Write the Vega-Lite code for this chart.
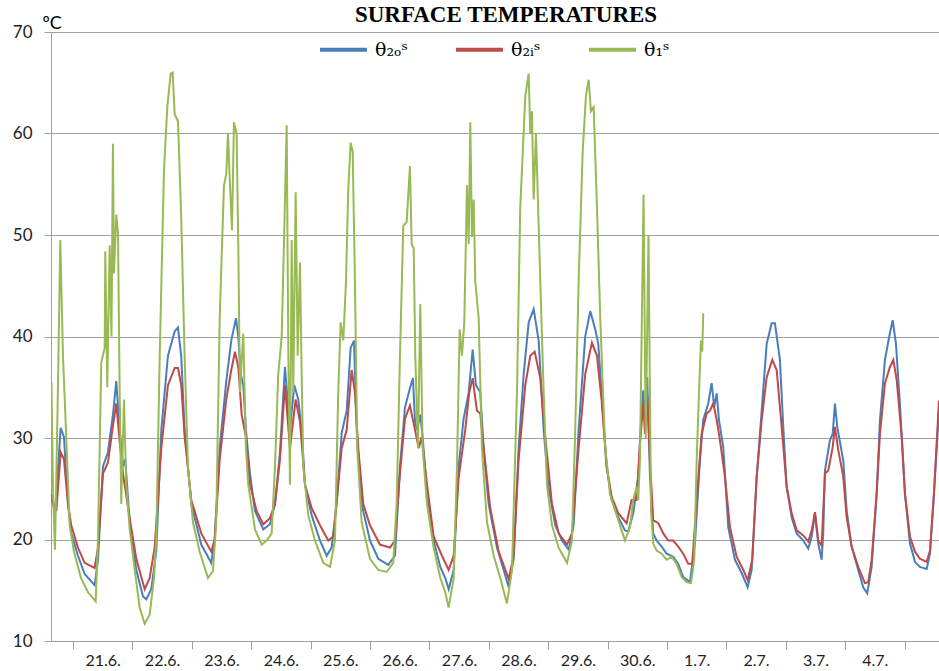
{
"$schema": "https://vega.github.io/schema/vega-lite/v6.json",
"width": 888, "height": 609,
"autosize": {"type": "none"},
"padding": {"left": 51, "top": 32, "right": 0, "bottom": 30},
"background": "white",
"config": {"view": {"stroke": null}},
"title": {"text": "SURFACE TEMPERATURES", "font": "Liberation Serif", "fontSize": 23, "fontWeight": "bold", "color": "#000", "anchor": "middle", "frame": "group", "dx": 11, "dy": 21, "offset": 8},
"datasets": {
"b": [
{"t":-0.362,"v":24.5},{"t":-0.303,"v":22.5},{"t":-0.207,"v":31},{"t":-0.152,"v":30.1},{"t":-0.084,"v":23.5},{"t":-0.029,"v":20.6},{"t":0.084,"v":18.4},{"t":0.197,"v":16.6},{"t":0.365,"v":15.5},{"t":0.421,"v":18},{"t":0.505,"v":27.2},{"t":0.589,"v":28.6},{"t":0.673,"v":32.3},{"t":0.729,"v":35.6},{"t":0.786,"v":30.8},{"t":0.842,"v":27.2},{"t":0.880,"v":27.9},{"t":0.955,"v":21.7},{"t":1.066,"v":17},{"t":1.178,"v":14.4},{"t":1.234,"v":14.1},{"t":1.318,"v":15.1},{"t":1.402,"v":18.8},{"t":1.487,"v":30.8},{"t":1.599,"v":38.1},{"t":1.712,"v":40.5},{"t":1.768,"v":40.9},{"t":1.823,"v":38},{"t":1.880,"v":30.8},{"t":1.992,"v":23.5},{"t":2.160,"v":19.5},{"t":2.328,"v":17.7},{"t":2.385,"v":20},{"t":2.470,"v":29},{"t":2.581,"v":35.6},{"t":2.665,"v":39.6},{"t":2.744,"v":41.8},{"t":2.783,"v":40},{"t":2.823,"v":36.3},{"t":2.867,"v":35.2},{"t":2.912,"v":30.8},{"t":2.980,"v":26.5},{"t":3.064,"v":22.8},{"t":3.204,"v":21},{"t":3.316,"v":21.5},{"t":3.401,"v":23.5},{"t":3.485,"v":28.6},{"t":3.569,"v":37},{"t":3.653,"v":30.8},{"t":3.726,"v":35.2},{"t":3.793,"v":33.8},{"t":3.850,"v":30.8},{"t":3.906,"v":25.4},{"t":4.018,"v":22.4},{"t":4.158,"v":19.9},{"t":4.271,"v":18.4},{"t":4.355,"v":19.2},{"t":4.439,"v":23.5},{"t":4.524,"v":30.5},{"t":4.608,"v":32.7},{"t":4.675,"v":38.9},{"t":4.731,"v":39.6},{"t":4.776,"v":30.8},{"t":4.860,"v":23.5},{"t":5.000,"v":19.9},{"t":5.140,"v":18.1},{"t":5.308,"v":17.5},{"t":5.421,"v":18.4},{"t":5.505,"v":27.2},{"t":5.589,"v":33},{"t":5.673,"v":34.9},{"t":5.724,"v":35.9},{"t":5.758,"v":31.6},{"t":5.791,"v":30.8},{"t":5.847,"v":32.3},{"t":5.887,"v":30.1},{"t":5.960,"v":24.6},{"t":6.072,"v":19.9},{"t":6.184,"v":17.3},{"t":6.268,"v":16.2},{"t":6.325,"v":15.1},{"t":6.409,"v":17},{"t":6.493,"v":27.2},{"t":6.577,"v":31.9},{"t":6.662,"v":34.5},{"t":6.729,"v":38.7},{"t":6.784,"v":35.2},{"t":6.857,"v":34.5},{"t":6.914,"v":29},{"t":6.998,"v":23.5},{"t":7.138,"v":19.2},{"t":7.251,"v":17},{"t":7.335,"v":15.3},{"t":7.419,"v":18.1},{"t":7.503,"v":29},{"t":7.588,"v":36.3},{"t":7.672,"v":41.4},{"t":7.756,"v":42.7},{"t":7.840,"v":39.6},{"t":7.924,"v":30.8},{"t":8.008,"v":25},{"t":8.120,"v":21.4},{"t":8.232,"v":19.9},{"t":8.345,"v":19},{"t":8.429,"v":21.4},{"t":8.513,"v":30.8},{"t":8.624,"v":40},{"t":8.709,"v":42.5},{"t":8.793,"v":40.7},{"t":8.843,"v":39.3},{"t":8.900,"v":34.4},{"t":8.984,"v":27.2},{"t":9.069,"v":23.9},{"t":9.180,"v":22.2},{"t":9.293,"v":20.9},{"t":9.349,"v":20.8},{"t":9.433,"v":22.6},{"t":9.517,"v":26.2},{"t":9.574,"v":32.7},{"t":9.601,"v":34.7},{"t":9.630,"v":31.8},{"t":9.668,"v":36},{"t":9.714,"v":26.2},{"t":9.769,"v":20.6},{"t":9.826,"v":19.9},{"t":9.911,"v":19.3},{"t":9.995,"v":18.6},{"t":10.106,"v":18.3},{"t":10.190,"v":17.6},{"t":10.274,"v":16.3},{"t":10.387,"v":15.8},{"t":10.471,"v":19.6},{"t":10.555,"v":27.8},{"t":10.611,"v":31.8},{"t":10.695,"v":33.4},{"t":10.752,"v":35.4},{"t":10.796,"v":33.1},{"t":10.837,"v":34.4},{"t":10.875,"v":31.8},{"t":10.948,"v":29.1},{"t":11.032,"v":21.2},{"t":11.145,"v":18},{"t":11.258,"v":16.7},{"t":11.359,"v":15.3},{"t":11.426,"v":17},{"t":11.511,"v":26.2},{"t":11.595,"v":32.7},{"t":11.679,"v":39.3},{"t":11.763,"v":41.3},{"t":11.818,"v":41.3},{"t":11.902,"v":37.7},{"t":11.958,"v":31.1},{"t":12.015,"v":25.2},{"t":12.099,"v":22.2},{"t":12.184,"v":20.6},{"t":12.295,"v":19.9},{"t":12.379,"v":19.1},{"t":12.437,"v":20.3},{"t":12.492,"v":22.6},{"t":12.547,"v":19.6},{"t":12.604,"v":18},{"t":12.631,"v":20.6},{"t":12.660,"v":26.8},{"t":12.744,"v":29.8},{"t":12.790,"v":30.4},{"t":12.828,"v":33.4},{"t":12.867,"v":31.1},{"t":12.968,"v":27.8},{"t":13.025,"v":22.9},{"t":13.109,"v":19.3},{"t":13.220,"v":17},{"t":13.304,"v":15.3},{"t":13.372,"v":14.7},{"t":13.446,"v":17.3},{"t":13.530,"v":24.5},{"t":13.586,"v":31.8},{"t":13.670,"v":37.7},{"t":13.742,"v":40},{"t":13.800,"v":41.6},{"t":13.855,"v":39.3},{"t":13.922,"v":33.4},{"t":14.007,"v":24.5},{"t":14.091,"v":19.6},{"t":14.175,"v":17.8},{"t":14.259,"v":17.3},{"t":14.372,"v":17.1},{"t":14.428,"v":18.6},{"t":14.495,"v":24.5},{"t":14.579,"v":32.7}
],
"r": [
{"t":-0.362,"v":24},{"t":-0.281,"v":22.8},{"t":-0.207,"v":28.6},{"t":-0.152,"v":27.9},{"t":-0.084,"v":23.5},{"t":-0.029,"v":21.4},{"t":0.084,"v":19.2},{"t":0.197,"v":17.7},{"t":0.365,"v":17.2},{"t":0.421,"v":19.2},{"t":0.505,"v":26.5},{"t":0.589,"v":27.6},{"t":0.673,"v":31.2},{"t":0.729,"v":33.4},{"t":0.786,"v":29.7},{"t":0.842,"v":26.5},{"t":0.955,"v":22.1},{"t":1.066,"v":18.1},{"t":1.207,"v":15.1},{"t":1.291,"v":16.2},{"t":1.375,"v":19.2},{"t":1.487,"v":29},{"t":1.599,"v":35.2},{"t":1.712,"v":36.9},{"t":1.768,"v":36.9},{"t":1.823,"v":35.2},{"t":1.880,"v":30.1},{"t":1.992,"v":23.9},{"t":2.160,"v":20.6},{"t":2.328,"v":18.8},{"t":2.385,"v":20},{"t":2.470,"v":27.9},{"t":2.581,"v":33.8},{"t":2.665,"v":36.7},{"t":2.727,"v":38.5},{"t":2.783,"v":37},{"t":2.840,"v":32.3},{"t":2.912,"v":30.1},{"t":2.980,"v":25.4},{"t":3.093,"v":22.8},{"t":3.204,"v":21.5},{"t":3.316,"v":22.1},{"t":3.401,"v":23.5},{"t":3.485,"v":27.9},{"t":3.569,"v":35.2},{"t":3.653,"v":29},{"t":3.749,"v":33.8},{"t":3.822,"v":31.6},{"t":3.906,"v":25.4},{"t":4.018,"v":23.1},{"t":4.158,"v":21.4},{"t":4.298,"v":19.9},{"t":4.382,"v":20.3},{"t":4.466,"v":25.4},{"t":4.524,"v":29},{"t":4.608,"v":30.8},{"t":4.692,"v":36.7},{"t":4.747,"v":34.5},{"t":4.803,"v":29},{"t":4.887,"v":23.5},{"t":5.000,"v":21.4},{"t":5.168,"v":19.5},{"t":5.337,"v":19.2},{"t":5.421,"v":19.9},{"t":5.505,"v":26.5},{"t":5.589,"v":31.9},{"t":5.673,"v":33.2},{"t":5.758,"v":30.8},{"t":5.820,"v":29},{"t":5.870,"v":30.1},{"t":5.960,"v":25.4},{"t":6.072,"v":20.3},{"t":6.212,"v":18.4},{"t":6.325,"v":17},{"t":6.409,"v":18.4},{"t":6.493,"v":26.1},{"t":6.604,"v":30.8},{"t":6.672,"v":34.5},{"t":6.729,"v":35.9},{"t":6.801,"v":32.7},{"t":6.857,"v":32.4},{"t":6.914,"v":29},{"t":7.025,"v":23.1},{"t":7.167,"v":18.8},{"t":7.335,"v":16.1},{"t":7.419,"v":18.4},{"t":7.503,"v":27.9},{"t":7.615,"v":35.2},{"t":7.699,"v":38.1},{"t":7.773,"v":38.5},{"t":7.867,"v":35.9},{"t":7.951,"v":30.1},{"t":8.064,"v":23.5},{"t":8.177,"v":20.6},{"t":8.317,"v":19.5},{"t":8.401,"v":20.6},{"t":8.513,"v":29},{"t":8.624,"v":36.3},{"t":8.737,"v":39.4},{"t":8.822,"v":38.1},{"t":8.900,"v":33.7},{"t":8.984,"v":27.2},{"t":9.069,"v":24.2},{"t":9.180,"v":22.6},{"t":9.321,"v":21.6},{"t":9.405,"v":23.9},{"t":9.490,"v":23.9},{"t":9.545,"v":29.5},{"t":9.601,"v":33.4},{"t":9.630,"v":30.4},{"t":9.668,"v":34.1},{"t":9.714,"v":27.8},{"t":9.769,"v":21.9},{"t":9.854,"v":21.6},{"t":9.938,"v":20.6},{"t":10.022,"v":19.9},{"t":10.106,"v":19.9},{"t":10.190,"v":19.3},{"t":10.274,"v":18.6},{"t":10.359,"v":17.6},{"t":10.426,"v":17.6},{"t":10.500,"v":23.9},{"t":10.584,"v":30.4},{"t":10.668,"v":32.4},{"t":10.724,"v":32.7},{"t":10.780,"v":33.4},{"t":10.837,"v":31.8},{"t":10.892,"v":29.8},{"t":10.976,"v":26.2},{"t":11.061,"v":21.2},{"t":11.173,"v":18.3},{"t":11.285,"v":17},{"t":11.359,"v":16},{"t":11.436,"v":18},{"t":11.511,"v":26.2},{"t":11.595,"v":31.8},{"t":11.679,"v":36},{"t":11.773,"v":37.7},{"t":11.847,"v":36.7},{"t":11.931,"v":31.1},{"t":12.015,"v":25.2},{"t":12.099,"v":22.6},{"t":12.184,"v":20.9},{"t":12.295,"v":20.4},{"t":12.379,"v":19.8},{"t":12.437,"v":20.9},{"t":12.492,"v":22.7},{"t":12.547,"v":19.9},{"t":12.604,"v":19.4},{"t":12.660,"v":26.5},{"t":12.716,"v":26.8},{"t":12.790,"v":29.1},{"t":12.828,"v":31.1},{"t":12.884,"v":28.8},{"t":12.968,"v":26.2},{"t":13.025,"v":22.2},{"t":13.109,"v":19.3},{"t":13.220,"v":17.3},{"t":13.333,"v":15.7},{"t":13.389,"v":15.8},{"t":13.446,"v":18},{"t":13.530,"v":24.5},{"t":13.586,"v":30.4},{"t":13.670,"v":35.4},{"t":13.754,"v":37},{"t":13.811,"v":37.7},{"t":13.868,"v":35.7},{"t":13.952,"v":30.1},{"t":14.007,"v":24.5},{"t":14.091,"v":20.3},{"t":14.175,"v":18.8},{"t":14.259,"v":18.1},{"t":14.372,"v":17.8},{"t":14.428,"v":18.9},{"t":14.495,"v":24.5},{"t":14.579,"v":33.7}
],
"g": [
{"t":-0.362,"v":35.5},{"t":-0.337,"v":25},{"t":-0.303,"v":19},{"t":-0.253,"v":35},{"t":-0.214,"v":49.5},{"t":-0.168,"v":38},{"t":-0.118,"v":30.8},{"t":-0.056,"v":21.4},{"t":0.017,"v":18.8},{"t":0.135,"v":16.2},{"t":0.253,"v":14.8},{"t":0.382,"v":13.9},{"t":0.421,"v":20},{"t":0.476,"v":37.4},{"t":0.534,"v":38.9},{"t":0.544,"v":48.4},{"t":0.577,"v":35},{"t":0.618,"v":49},{"t":0.648,"v":40},{"t":0.673,"v":59},{"t":0.690,"v":46.2},{"t":0.729,"v":52},{"t":0.758,"v":50.2},{"t":0.786,"v":34.5},{"t":0.813,"v":23.5},{"t":0.859,"v":33.8},{"t":0.897,"v":25.4},{"t":0.955,"v":21},{"t":1.039,"v":17},{"t":1.123,"v":13.3},{"t":1.207,"v":11.7},{"t":1.291,"v":12.6},{"t":1.364,"v":16.2},{"t":1.402,"v":20},{"t":1.460,"v":38},{"t":1.532,"v":56.4},{"t":1.588,"v":62.6},{"t":1.645,"v":65.9},{"t":1.678,"v":66},{"t":1.712,"v":61.9},{"t":1.768,"v":61.2},{"t":1.823,"v":51.6},{"t":1.880,"v":38},{"t":1.936,"v":27.2},{"t":2.020,"v":21.7},{"t":2.133,"v":18.8},{"t":2.273,"v":16.2},{"t":2.357,"v":16.9},{"t":2.412,"v":21.7},{"t":2.470,"v":41.8},{"t":2.542,"v":54.9},{"t":2.581,"v":56},{"t":2.609,"v":60},{"t":2.643,"v":55},{"t":2.677,"v":50.5},{"t":2.710,"v":61.1},{"t":2.755,"v":60},{"t":2.783,"v":49},{"t":2.811,"v":34.5},{"t":2.867,"v":40.3},{"t":2.912,"v":29},{"t":2.951,"v":25.4},{"t":3.064,"v":21},{"t":3.177,"v":19.5},{"t":3.261,"v":19.9},{"t":3.345,"v":20.6},{"t":3.401,"v":27.2},{"t":3.456,"v":36.3},{"t":3.514,"v":40},{"t":3.559,"v":50.9},{"t":3.598,"v":60.8},{"t":3.626,"v":38.1},{"t":3.653,"v":25.4},{"t":3.682,"v":49.5},{"t":3.709,"v":34.5},{"t":3.749,"v":54.2},{"t":3.783,"v":38.1},{"t":3.822,"v":47.3},{"t":3.850,"v":36.3},{"t":3.877,"v":27.2},{"t":3.961,"v":22.4},{"t":4.074,"v":19.9},{"t":4.214,"v":17.7},{"t":4.327,"v":17.3},{"t":4.411,"v":19.9},{"t":4.466,"v":34.5},{"t":4.507,"v":41.4},{"t":4.551,"v":39.6},{"t":4.596,"v":45.4},{"t":4.635,"v":54.6},{"t":4.675,"v":59.1},{"t":4.709,"v":58.2},{"t":4.747,"v":45.4},{"t":4.786,"v":29},{"t":4.860,"v":21.7},{"t":5.000,"v":18.1},{"t":5.140,"v":17},{"t":5.281,"v":16.8},{"t":5.392,"v":17.7},{"t":5.449,"v":23.5},{"t":5.505,"v":38.1},{"t":5.561,"v":50.9},{"t":5.618,"v":51.3},{"t":5.673,"v":56.8},{"t":5.702,"v":49.1},{"t":5.736,"v":48.7},{"t":5.763,"v":38.1},{"t":5.808,"v":29},{"t":5.847,"v":43.2},{"t":5.887,"v":29},{"t":5.960,"v":23.5},{"t":6.072,"v":19.2},{"t":6.184,"v":16.2},{"t":6.268,"v":14.8},{"t":6.325,"v":13.3},{"t":6.409,"v":16.2},{"t":6.465,"v":27.2},{"t":6.510,"v":40.7},{"t":6.549,"v":38.1},{"t":6.588,"v":41.4},{"t":6.633,"v":54.9},{"t":6.662,"v":49.1},{"t":6.689,"v":61.1},{"t":6.717,"v":49.8},{"t":6.746,"v":53.5},{"t":6.773,"v":45.4},{"t":6.830,"v":41.8},{"t":6.885,"v":29},{"t":6.970,"v":21.7},{"t":7.083,"v":18.4},{"t":7.194,"v":16.2},{"t":7.306,"v":13.7},{"t":7.391,"v":17},{"t":7.475,"v":34.5},{"t":7.530,"v":52.7},{"t":7.615,"v":63.7},{"t":7.672,"v":65.9},{"t":7.699,"v":60},{"t":7.727,"v":62.2},{"t":7.756,"v":53.5},{"t":7.795,"v":60},{"t":7.840,"v":50.9},{"t":7.924,"v":34.5},{"t":7.980,"v":25.4},{"t":8.064,"v":21.4},{"t":8.177,"v":19.2},{"t":8.317,"v":17.7},{"t":8.401,"v":19.9},{"t":8.456,"v":30.8},{"t":8.513,"v":45.4},{"t":8.581,"v":58.2},{"t":8.636,"v":63.7},{"t":8.682,"v":65.3},{"t":8.720,"v":62.2},{"t":8.766,"v":62.6},{"t":8.822,"v":52.7},{"t":8.877,"v":41.8},{"t":8.956,"v":29.5},{"t":9.040,"v":24.5},{"t":9.180,"v":21.9},{"t":9.293,"v":19.9},{"t":9.377,"v":21.2},{"t":9.433,"v":23.9},{"t":9.490,"v":25.2},{"t":9.517,"v":23.9},{"t":9.545,"v":27.8},{"t":9.606,"v":54},{"t":9.642,"v":30},{"t":9.689,"v":50},{"t":9.731,"v":22.9},{"t":9.769,"v":19.6},{"t":9.826,"v":18.9},{"t":9.911,"v":18.6},{"t":9.995,"v":18},{"t":10.079,"v":18.3},{"t":10.163,"v":17.6},{"t":10.247,"v":16.3},{"t":10.331,"v":15.8},{"t":10.404,"v":15.7},{"t":10.460,"v":18},{"t":10.500,"v":27.8},{"t":10.539,"v":34.4},{"t":10.572,"v":39.6},{"t":10.594,"v":38.5},{"t":10.611,"v":42.3}
]
},
"layer": [
{"data": {"name": "b"}, "mark": {"type": "line", "strokeWidth": 2, "clip": true}, "encoding": {"color": {"datum": "θ₂ₒˢ", "type": "nominal"}}},
{"data": {"name": "r"}, "mark": {"type": "line", "strokeWidth": 2, "clip": true}, "encoding": {"color": {"datum": "θ₂ᵢˢ", "type": "nominal"}}},
{"data": {"name": "g"}, "mark": {"type": "line", "strokeWidth": 2, "clip": true}, "encoding": {"color": {"datum": "θ₁ˢ", "type": "nominal"}}}
],
"encoding": {
"x": {"field": "t", "type": "quantitative", "scale": {"domain": [-0.37, 14.58], "nice": false, "zero": false},
 "axis": {"title": null, "values": [0,1,2,3,4,5,6,7,8,9,10,11,12,13,14], "grid": false, "domainColor": "#a0a0a0", "tickColor": "#a0a0a0", "tickSize": 8,
  "labelExpr": "datum.value < 10 ? (21 + datum.value) + '.6.' : (datum.value < 14 ? (datum.value - 9) + '.7.' : '')",
  "labelOffset": 29.7, "labelFont": "Lato", "labelFontSize": 16, "labelColor": "#222", "labelPadding": 3, "labelOverlap": false, "labelBound": false, "labelFlush": false}},
"y": {"field": "v", "type": "quantitative", "scale": {"domain": [10, 70], "nice": false, "zero": false},
 "axis": {"title": "ºC", "titleAngle": 0, "titleX": -9, "titleY": -4, "titleAlign": "left", "titleBaseline": "alphabetic", "titleFont": "Lato", "titleFontSize": 18, "titleFontWeight": "normal", "titleColor": "#000",
  "values": [10,20,30,40,50,60,70], "grid": true, "gridColor": "#a0a0a0", "domainColor": "#a0a0a0", "tickColor": "#a0a0a0", "tickSize": 7, "labelPadding": 12, "labelFont": "Lato", "labelFontSize": 17, "labelColor": "#222"}},
"color": {"type": "nominal", "scale": {"domain": ["θ₂ₒˢ", "θ₂ᵢˢ", "θ₁ˢ"], "range": ["#4a7ebb", "#be4b48", "#98b954"]},
 "legend": {"orient": "none", "legendX": 267, "legendY": -8, "direction": "horizontal", "title": null, "symbolType": "stroke", "symbolSize": 2209, "symbolStrokeWidth": 4, "labelFont": "DejaVu Serif", "labelFontSize": 19, "labelOffset": 6, "columnPadding": 40, "labelColor": "#000"}}
}
}
